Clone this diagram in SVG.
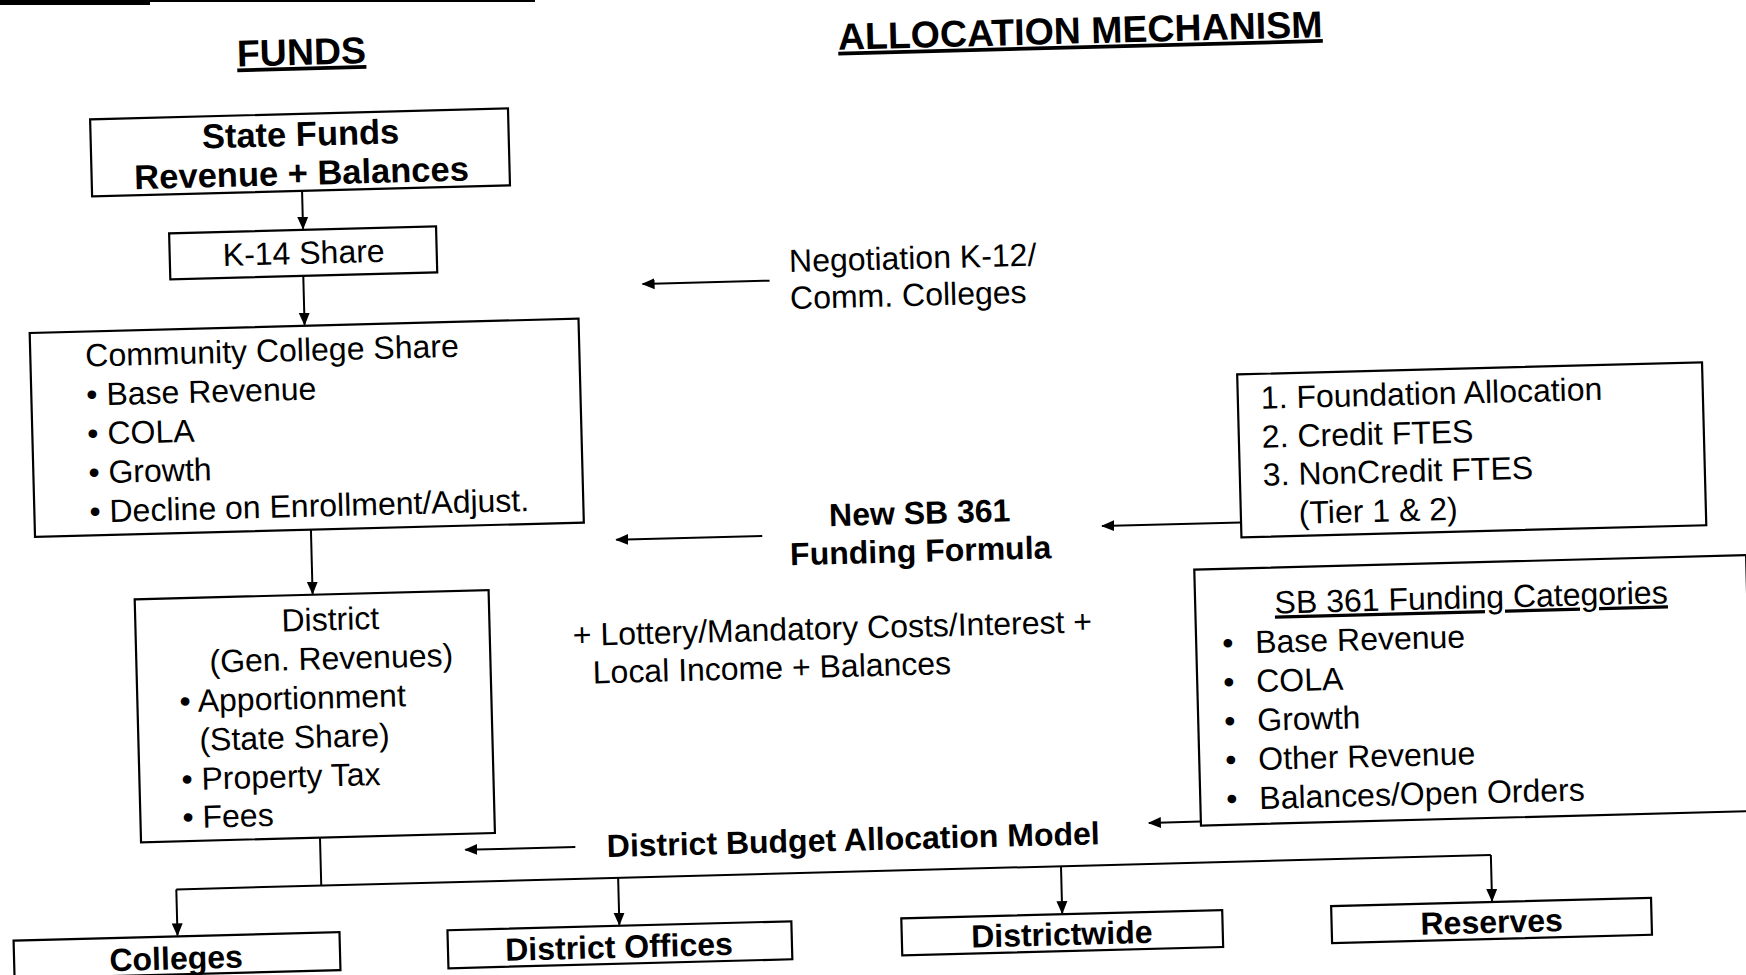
<svg xmlns="http://www.w3.org/2000/svg" width="1746" height="975" viewBox="0 0 1746 975">
<defs>
<style>
.box{fill:none;stroke:#000;stroke-width:2.2}
.ln{fill:none;stroke:#000;stroke-width:2}
.t{font-family:"Liberation Sans",Arial,sans-serif;font-size:32px;fill:#000}
.b{font-weight:bold}
.m{text-anchor:middle}
.h{font-size:37.5px;font-weight:bold;text-decoration:underline}
.u{text-decoration:underline}
</style>
<marker id="ah" markerUnits="userSpaceOnUse" markerWidth="14" markerHeight="12" refX="12" refY="6" orient="auto">
<path d="M0,0.5 L13,6 L0,11.5 Z" fill="#000"/>
</marker>
</defs>
<rect x="0" y="0" width="1746" height="975" fill="#fff"/>
<rect x="0" y="0" width="150" height="5" fill="#000"/>
<rect x="150" y="0" width="385" height="2" fill="#000"/>
<g transform="rotate(-1.5 873 487)">
<g id="headings">
<text class="t h m" x="313" y="50">FUNDS</text>
<text class="t h m" x="1092" y="49">ALLOCATION MECHANISM</text>
</g>
<g id="connectors">
<line class="ln" x1="310" y1="176" x2="310" y2="214" marker-end="url(#ah)"/>
<line class="ln" x1="309" y1="261" x2="309" y2="310" marker-end="url(#ah)"/>
<line class="ln" x1="310" y1="515" x2="310" y2="579" marker-end="url(#ah)"/>
<polyline class="ln" points="311,823 311,871"/>
<polyline class="ln" points="166,871 1481,871"/>
<line class="ln" x1="166" y1="871" x2="166" y2="917" marker-end="url(#ah)"/>
<line class="ln" x1="608" y1="871" x2="608" y2="918" marker-end="url(#ah)"/>
<line class="ln" x1="1051" y1="871" x2="1051" y2="918" marker-end="url(#ah)"/>
<line class="ln" x1="1481" y1="871" x2="1481" y2="917" marker-end="url(#ah)"/>
<line class="ln" x1="775" y1="278" x2="648" y2="278" marker-end="url(#ah)"/>
<line class="ln" x1="761" y1="533" x2="615" y2="533" marker-end="url(#ah)"/>
<line class="ln" x1="1240" y1="532" x2="1101" y2="532" marker-end="url(#ah)"/>
<line class="ln" x1="1192" y1="830" x2="1140" y2="830" marker-end="url(#ah)"/>
<line class="ln" x1="566" y1="839" x2="456" y2="839" marker-end="url(#ah)"/>
</g>
<g id="state-funds">
<rect class="box" x="100" y="99" width="418" height="77"/>
<text class="t b m" x="310" y="131" style="font-size:34.5px">State Funds</text>
<text class="t b m" x="310" y="170" style="font-size:34.5px">Revenue + Balances</text>
</g>
<g id="k14-share">
<rect class="box" x="176" y="215" width="267" height="46"/>
<text class="t m" x="310" y="249">K-14 Share</text>
</g>
<g id="cc-share">
<rect class="box" x="34" y="311" width="549" height="204"/>
<text class="t" x="89" y="346">Community College Share</text>
<text class="t" x="89" y="385">• Base Revenue</text>
<text class="t" x="89" y="424">• COLA</text>
<text class="t" x="89" y="463">• Growth</text>
<text class="t" x="89" y="502">• Decline on Enrollment/Adjust.</text>
</g>
<g id="district">
<rect class="box" x="132" y="580" width="354" height="243"/>
<text class="t m" x="327" y="616">District</text>
<text class="t m" x="327" y="655">(Gen. Revenues)</text>
<text class="t" x="174" y="694">• Apportionment</text>
<text class="t" x="193" y="733">(State Share)</text>
<text class="t" x="174" y="772">• Property Tax</text>
<text class="t" x="174" y="810">• Fees</text>
</g>
<g id="negotiation">
<text class="t" x="795" y="270">Negotiation K-12/</text>
<text class="t" x="795" y="307">Comm. Colleges</text>
</g>
<g id="sb361-formula">
<text class="t b m" x="919" y="525">New SB 361</text>
<text class="t b m" x="919" y="563">Funding Formula</text>
</g>
<g id="foundation">
<rect class="box" x="1240" y="384" width="465" height="163"/>
<text class="t" x="1263" y="419">1. Foundation Allocation</text>
<text class="t" x="1263" y="458">2. Credit FTES</text>
<text class="t" x="1263" y="496">3. NonCredit FTES</text>
<text class="t" x="1298" y="535">(Tier 1 &amp; 2)</text>
</g>
<g id="lottery">
<text class="t" x="569" y="638">+ Lottery/Mandatory Costs/Interest +</text>
<text class="t" x="588" y="676">Local Income + Balances</text>
</g>
<g id="sb361-categories">
<rect class="box" x="1192" y="578" width="552" height="256"/>
<text class="t u m" x="1468" y="624">SB 361 Funding Categories</text>
<text class="t" y="663"><tspan x="1218">•</tspan><tspan x="1251">Base Revenue</tspan></text>
<text class="t" y="702"><tspan x="1218">•</tspan><tspan x="1251">COLA</tspan></text>
<text class="t" y="741"><tspan x="1218">•</tspan><tspan x="1251">Growth</tspan></text>
<text class="t" y="780"><tspan x="1218">•</tspan><tspan x="1251">Other Revenue</tspan></text>
<text class="t" y="819"><tspan x="1218">•</tspan><tspan x="1251">Balances/Open Orders</tspan></text>
</g>
<g id="budget-model">
<text class="t b m" x="844" y="850">District Budget Allocation Model</text>
</g>
<g id="colleges">
<rect class="box" x="2" y="918" width="326" height="38"/>
<text class="t b m" x="164" y="951">Colleges</text>
</g>
<g id="district-offices">
<rect class="box" x="436" y="919" width="344" height="38"/>
<text class="t b m" x="607" y="951">District Offices</text>
</g>
<g id="districtwide">
<rect class="box" x="890" y="919" width="321" height="37"/>
<text class="t b m" x="1050" y="950">Districtwide</text>
</g>
<g id="reserves">
<rect class="box" x="1320" y="918" width="320" height="37"/>
<text class="t b m" x="1480" y="949">Reserves</text>
</g>
</g>
</svg>
